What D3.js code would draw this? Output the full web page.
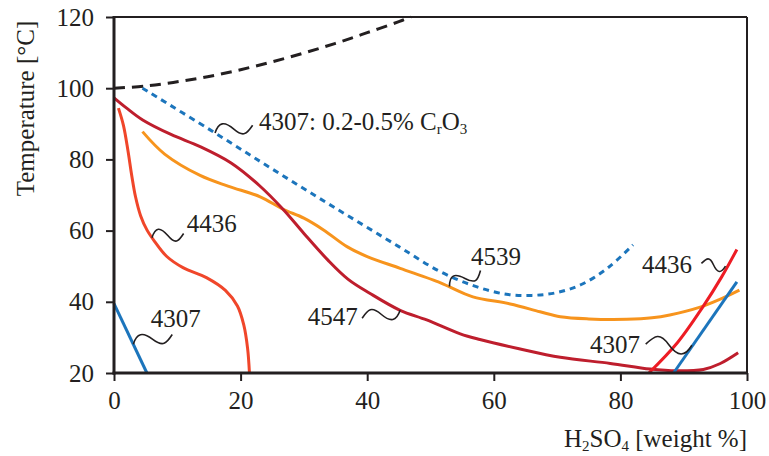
<!DOCTYPE html>
<html><head><meta charset="utf-8">
<script src="https://cdn.jsdelivr.net/npm/d3@7"></script>
<style>
html,body{margin:0;padding:0;background:#fff;}
svg{display:block;font-family:"Liberation Serif","DejaVu Serif",serif;}
</style></head>
<body>
<svg id="chart" width="769" height="456"></svg>
<script>
// ---- data ----
const xTicks = [0, 20, 40, 60, 80, 100];
const yTicks = [20, 40, 60, 80, 100, 120];

const boiling = [[0,100],[5,100.6],[10,101.8],[15,103.3],[20,105.2],[25,107.4],[30,109.9],[35,112.6],[40,115.6],[45,118.7],[46.9,120]];
const s4307cr = [[4.5,100],[15,88.5],[25,77.3],[35,66.3],[45,55.5],[51.5,48.5],[57,44.4],[62,42.1],[66,41.8],[70,42.6],[74,45],[78,49.5],[82,56]];
const s4547 = [[0,97.3],[2,94.4],[4.6,91.0],[9,87.0],[13.6,83.6],[18.5,79.0],[23,72.6],[26.7,66.0],[30,59.2],[33.8,51.7],[37,46.3],[40.4,42.4],[45.2,37.6],[49.4,34.9],[54.7,31.0],[57.8,29.4],[64,26.8],[70.5,24.4],[78.4,22.7],[84.7,21.1],[88.9,20.6],[93.1,21.0],[95.7,22.6],[98.6,25.7]];
const s4539 = [[4.5,87.8],[8,81.5],[13.6,75.5],[18,72.5],[23.1,69.5],[26.7,66.0],[30,63.5],[33.1,60.2],[36.8,55.5],[40,52.7],[45.2,49.4],[51.5,45.4],[53.1,44.1],[56.7,41.4],[62.6,39.4],[67.3,37.2],[70.5,35.8],[75,35.2],[81,35.1],[85,35.5],[87.8,36.3],[92.6,38.5],[95.6,40.6],[98.8,43.3]];
const s4436left = [[0.7,94.4],[1.5,89.5],[2.2,82.5],[2.8,75.5],[3.4,69.5],[4.2,64.2],[5.2,60.2],[6.4,57.0],[8.3,52.8],[10.9,49.6],[14.6,46.8],[17.6,43.2],[19.5,38.8],[20.5,33.5],[21.1,27],[21.4,20]];
const s4307left = [[0,39.5],[5.2,20]];
const s4436right = [[84.5,20],[89,28.5],[93,38.5],[96,47],[98.4,54.7]];
const s4307right = [[88.4,20],[98.4,45.6]];

// annotation labels: text anchor (data), leader start on curve, leader end near text
const labels = [
  {parts:[["4307: 0.2-0.5% C",0],["r",1],["O",0],["3",1]], tx:22.9, ty:88.3, a:[15.96,87.4], b:[21.9,89.6], h:-5},
  {parts:[["4436",0]], tx:11.5, ty:59.7, a:[6.0,58.0], b:[11.0,59.2], h:-5},
  {parts:[["4307",0]], tx:5.8, ty:33.0, a:[3.05,28.1], b:[9.2,30.8], h:-5},
  {parts:[["4547",0]], tx:30.6, ty:33.5, a:[45.2,37.6], b:[39.2,35.4], h:-5},
  {parts:[["4539",0]], tx:56.4, ty:50.3, a:[53.0,44.3], b:[57.9,48.8], h:-5},
  {parts:[["4436",0]], tx:83.4, ty:48.2, a:[96.6,50.0], b:[92.8,50.8], h:-4},
  {parts:[["4307",0]], tx:75.2, ty:25.5, a:[91.3,27.8], b:[84.0,28.1], h:-6}
];

// ---- chart ----
const svg = d3.select("#chart");
const x = d3.scaleLinear().domain([0,100]).range([114,747]);
const y = d3.scaleLinear().domain([20,120]).range([373,17]);
const ink = "#231f20";

const line = d3.line().x(d=>x(d[0])).y(d=>y(d[1])).curve(d3.curveCatmullRom.alpha(0.5));

// frame top/right
svg.append("line").attr("x1",x(0)).attr("x2",x(100)).attr("y1",y(120)).attr("y2",y(120)).attr("stroke",ink).attr("stroke-width",2);
svg.append("line").attr("x1",x(100)).attr("x2",x(100)).attr("y1",y(120)).attr("y2",y(20)).attr("stroke",ink).attr("stroke-width",2);

// curves
const series = [
  {d:boiling, c:"#231f20", dash:"11,7", w:3},
  {d:s4307cr, c:"#1c75bc", dash:"6,5", w:3},
  {d:s4539, c:"#f7941d", w:3},
  {d:s4547, c:"#be1e2d", w:3},
  {d:s4436left, c:"#f0462a", w:3},
  {d:s4307left, c:"#1c75bc", w:3},
  {d:s4436right, c:"#ed1c24", w:3},
  {d:s4307right, c:"#1c75bc", w:3}
];
series.forEach(s=>{
  svg.append("path").attr("d",line(s.d)).attr("fill","none")
    .attr("stroke",s.c).attr("stroke-width",s.w)
    .attr("stroke-dasharray",s.dash||null).attr("stroke-linecap","butt");
});

// axes
const xAxis = svg.append("g").attr("transform",`translate(0,${y(20)})`)
  .call(d3.axisBottom(x).tickValues(xTicks).tickSize(8).tickPadding(10).tickFormat(d3.format("d")));
const yAxis = svg.append("g").attr("transform",`translate(${x(0)},0)`)
  .call(d3.axisLeft(y).tickValues(yTicks).tickSize(8).tickPadding(12).tickFormat(d3.format("d")));
[xAxis,yAxis].forEach(g=>{
  g.select(".domain").attr("stroke",ink).attr("stroke-width",3);
  g.selectAll(".tick line").attr("stroke",ink).attr("stroke-width",2);
  g.selectAll(".tick text").attr("fill",ink).style("font-size","25px").style("font-family","Liberation Serif");
});
xAxis.select(".domain").attr("d",`M${x(0)-1.5},0H${x(100)+1}`);
yAxis.select(".domain").attr("d",`M0,${y(20)+1.5}V${y(120)-1}`);

// axis titles
svg.append("text").attr("transform",`translate(34,${(17+200)/2}) rotate(-90)`)
  .attr("text-anchor","middle").attr("fill",ink).style("font-size","25px").text("Temperature [°C]");
const xt = svg.append("text").attr("x",747).attr("y",447).attr("text-anchor","end").attr("fill",ink).style("font-size","25px");
xt.append("tspan").text("H");
xt.append("tspan").attr("dy",4).style("font-size","15px").text("2");
xt.append("tspan").attr("dy",-4).text("SO");
xt.append("tspan").attr("dy",4).style("font-size","15px").text("4");
xt.append("tspan").attr("dy",-4).text(" [weight %]");

// annotations
labels.forEach(l=>{
  const A=[x(l.a[0]),y(l.a[1])], B=[x(l.b[0]),y(l.b[1])];
  const d=[B[0]-A[0],B[1]-A[1]];
  const len=Math.hypot(d[0],d[1]);
  const n=[-d[1]/len, d[0]/len];
  const M=[(A[0]+B[0])/2,(A[1]+B[1])/2];
  const h=l.h;
  const c1=[A[0]+0.15*d[0]+n[0]*h*2, A[1]+0.15*d[1]+n[1]*h*2];
  const c2=[M[0]-0.2*d[0]+n[0]*h*2, M[1]-0.2*d[1]+n[1]*h*2];
  const c4=[B[0]-0.2*d[0]-n[0]*h*1.5, B[1]-0.2*d[1]-n[1]*h*1.5];
  svg.append("path").attr("d",`M${A}C${c1} ${c2} ${M}S${c4} ${B}`)
    .attr("fill","none").attr("stroke",ink).attr("stroke-width",1.6);
  const t=svg.append("text").attr("x",x(l.tx)).attr("y",y(l.ty)).attr("fill",ink).style("font-size","25px");
  let sub=false;
  l.parts.forEach(p=>{
    const ts=t.append("tspan").text(p[0]);
    if(p[1] && !sub){ts.attr("dy",4).style("font-size","15px"); sub=true;}
    else if(!p[1] && sub){ts.attr("dy",-4); sub=false;}
    else if(p[1]){ts.style("font-size","15px");}
  });
});
</script>
</body></html>
